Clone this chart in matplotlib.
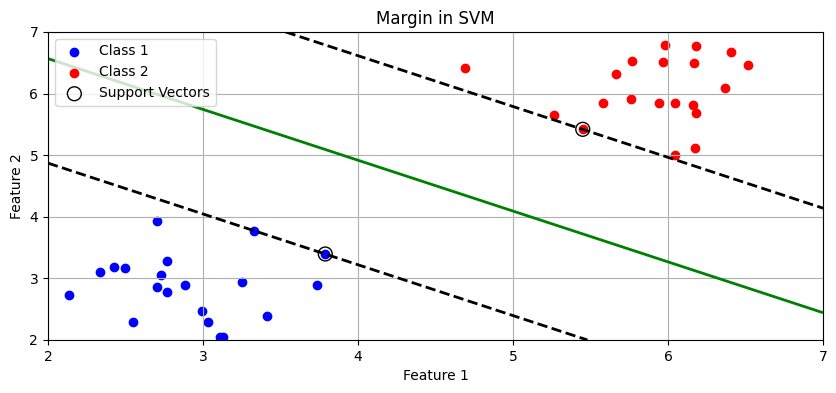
import numpy as np
import matplotlib
matplotlib.use("Agg")
import matplotlib.pyplot as plt

# class 1 points
class1_x = [2.705, 3.327, 3.789, 2.770, 2.338, 2.428, 2.499, 2.731, 2.705, 2.770,
            2.886, 3.254, 3.737, 2.138, 2.551, 2.994, 3.034, 3.413, 3.108, 3.129]
class1_y = [3.927, 3.764, 3.396, 3.282, 3.104, 3.180, 3.164, 3.055, 2.855, 2.779,
            2.888, 2.942, 2.888, 2.725, 2.287, 2.466, 2.292, 2.390, 2.044, 2.054]

# class 2 points
class2_x = [4.692, 5.981, 6.183, 6.408, 6.518, 5.768, 5.968, 6.170, 5.667, 6.368,
            5.583, 5.763, 5.944, 6.047, 6.163, 6.183, 5.267, 5.450, 6.174, 6.047]
class2_y = [6.411, 6.789, 6.773, 6.670, 6.464, 6.524, 6.508, 6.491, 6.318, 6.086,
            5.847, 5.907, 5.847, 5.847, 5.815, 5.680, 5.653, 5.420, 5.117, 5.003]

sv_x = [3.789, 5.450]
sv_y = [3.396, 5.420]

# linear svm weights, estimated from the drawn lines
w = [0.4862, 0.5893]
b = -4.843

xx, yy = np.meshgrid(np.linspace(2, 7, 300), np.linspace(2, 7, 300))
zz = w[0] * xx + w[1] * yy + b

fig, ax = plt.subplots(figsize=(8.37, 3.93), dpi=100)
fig.subplots_adjust(left=0.0573, right=0.9833, top=0.9186, bottom=0.1349)

ax.scatter(class1_x, class1_y, color='blue', label='Class 1')
ax.scatter(class2_x, class2_y, color='red', label='Class 2')
ax.contour(xx, yy, zz, levels=[-1, 0, 1], colors=['k', 'g', 'k'],
           linestyles=['--', '-', '--'], linewidths=2)
ax.scatter(sv_x, sv_y, s=100, facecolors='none', edgecolors='k', label='Support Vectors')

ax.set_xlim(2, 7)
ax.set_ylim(2, 7)
ax.set_xlabel('Feature 1')
ax.set_ylabel('Feature 2')
ax.set_title('Margin in SVM')
ax.legend(loc='upper left')
ax.grid(True)

plt.savefig('out.png')
